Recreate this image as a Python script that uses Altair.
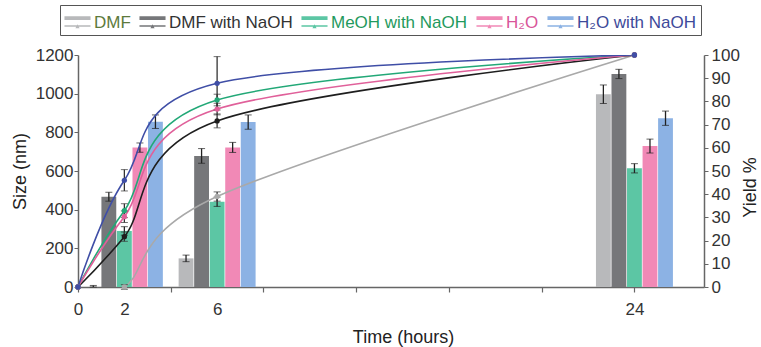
import altair as alt
import pandas as pd

# ---------------- data ----------------
series = ["DMF", "DMF with NaOH", "MeOH with NaOH", "H₂O", "H₂O with NaOH"]
bar_colors = ["#b8b9bb", "#76777a", "#5cc6a4", "#f189b6", "#8cb2e4"]
line_colors = ["#a9a9a9", "#1e1e1e", "#22a877", "#e0609a", "#3f4ea6"]
label_colors = ["#5d7a3c", "#333333", "#1f9a5e", "#d9559a", "#3d4a9a"]

bar_times = [2, 6, 24]
dmf_size = [0, 148, 997]
dmf_naoh_size = [467, 678, 1102]
meoh_naoh_size = [290, 441, 614]
h2o_size = [721, 722, 729]
h2o_naoh_size = [855, 853, 873]
dmf_size_err = [8, 17, 48]
dmf_naoh_size_err = [23, 38, 24]
meoh_naoh_size_err = [22, 24, 24]
h2o_size_err = [24, 26, 36]
h2o_naoh_size_err = [35, 37, 37]

line_times = [0, 2, 6, 24]
dmf_yield = [0, 0, 39, 100]
dmf_naoh_yield = [0, 21.7, 71.6, 100]
meoh_naoh_yield = [0, 32.9, 80.6, 100]
h2o_yield = [0, 30.3, 76.7, 100]
h2o_naoh_yield = [0, 46, 87.8, 100]
dmf_yield_err = [0, 1, 2, 0]
dmf_naoh_yield_err = [0, 2, 3, 0]
meoh_naoh_yield_err = [0, 3, 2.5, 0]
h2o_yield_err = [0, 2.5, 2.5, 0]
h2o_naoh_yield_err = [0, 4.6, 11.5, 0]

size_ticks = [0, 200, 400, 600, 800, 1000, 1200]
yield_ticks = [0, 10, 20, 30, 40, 50, 60, 70, 80, 90, 100]
hour_labels = [0, 2, 6, 24]
hour_ticks = [0, 4, 8, 12, 16, 20, 24]

# ---------------- build tables ----------------
BAR_STEP = 0.67   # hours between neighbouring bars
BAR_W = 0.64      # bar width in hours

sizes = [dmf_size, dmf_naoh_size, meoh_naoh_size, h2o_size, h2o_naoh_size]
size_errs = [dmf_size_err, dmf_naoh_size_err, meoh_naoh_size_err, h2o_size_err, h2o_naoh_size_err]
yields = [dmf_yield, dmf_naoh_yield, meoh_naoh_yield, h2o_yield, h2o_naoh_yield]
yield_errs = [dmf_yield_err, dmf_naoh_yield_err, meoh_naoh_yield_err, h2o_yield_err, h2o_naoh_yield_err]

bar_rows = []
for i, s in enumerate(series):
    for j, t in enumerate(bar_times):
        xc = t + (i - 2) * BAR_STEP
        v = sizes[i][j]
        e = size_errs[i][j]
        bar_rows.append(dict(series=s, order=i, xc=xc, x0=xc - BAR_W / 2, x1=xc + BAR_W / 2,
                             size=v, lo=max(v - e, 0), hi=v + e))
bar_df = pd.DataFrame(bar_rows)

line_rows = []
for i, s in enumerate(series):
    for j, t in enumerate(line_times):
        v = yields[i][j]
        e = yield_errs[i][j]
        line_rows.append(dict(series=s, order=i, t=t, y=v, lo=v - e, hi=v + e, err=e))
line_df = pd.DataFrame(line_rows)
err_df = line_df[line_df["err"] > 0]

# ---------------- scales / axes ----------------
FONT = "Liberation Sans"
xscale = alt.Scale(domain=[0, 27], nice=False, zero=False)
size_scale = alt.Scale(domain=[0, 1200], nice=False)
yield_scale = alt.Scale(domain=[0, 100], nice=False)

x_axis = alt.Axis(
    values=sorted(set(hour_labels + hour_ticks)),
    labelExpr="indexof([" + ",".join(str(h) for h in hour_labels) + "], datum.value) >= 0 ? datum.label : ''",
    tickOpacity={"condition": {"test": "datum.value % 4 == 0", "value": 1}, "value": 0},
    grid=False, tickSize=5, labelPadding=9, labelFontSize=17, labelFlush=False,
    labelOverlap=False, labelColor="#333", domainColor="#666", domainWidth=1.5,
    tickColor="#666", tickWidth=1.2,
    title="Time (hours)", titleFontSize=18, titleFontWeight="normal", titleColor="#222",
    titleX=325, titleY=50, titleBaseline="middle", titleAlign="center",
)
left_axis = alt.Axis(
    values=size_ticks, format="d", grid=False, tickSize=4, labelFontSize=17, labelColor="#333",
    labelOverlap=False, domainColor="#666", domainWidth=1.5, tickColor="#666", labelPadding=1,
    title="Size (nm)", titleFontSize=18, titleFontWeight="normal", titleColor="#222",
    titlePadding=6, orient="left",
)
right_axis = alt.Axis(
    values=yield_ticks, format="d", grid=False, tickSize=4, labelFontSize=17, labelColor="#333",
    labelOverlap=False, domainColor="#666", domainWidth=1.5, tickColor="#666", labelPadding=3,
    title="Yield %", titleFontSize=18, titleFontWeight="normal", titleColor="#222",
    titlePadding=2, titleAngle=270, titleBaseline="top", titleY=132, orient="right",
)

label_expr = "".join(f"datum.value == '{s}' ? '{c}' : " for s, c in zip(series[:-1], label_colors[:-1])) + f"'{label_colors[-1]}'"
legend_symbol = "M-1,-0.5H1V-0.22H-1Z M-1,0.2H1V0.3H-1Z M-0.16,0.42L0,0.12L0.16,0.42Z"

legend = alt.Legend(
    orient="none", legendX=-18, legendY=-50, direction="horizontal", title=None,
    symbolType=legend_symbol, symbolSize=680, symbolStrokeWidth=0, symbolOpacity=1,
    labelFontSize=17, labelFont=FONT, labelLimit=300, labelOffset=3, columnPadding=8,
    strokeColor="#555", padding=4,
    labelColor={"expr": label_expr},
)

# ---------------- layers ----------------
bars = alt.Chart(bar_df).mark_bar(opacity=1).encode(
    x=alt.X("x0:Q", scale=xscale, axis=x_axis, title="Time (hours)"),
    x2="x1:Q",
    y=alt.Y("size:Q", scale=size_scale, axis=left_axis, title="Size (nm)"),
    y2=alt.datum(0),
    color=alt.Color("series:N", scale=alt.Scale(domain=series, range=bar_colors), legend=legend, sort=series),
)

bar_err = alt.Chart(bar_df).mark_errorbar(
    ticks={"size": 7, "color": "#222", "strokeWidth": 1.3},
    rule={"strokeWidth": 1.3}, color="#222",
).encode(
    x=alt.X("xc:Q", scale=xscale, axis=x_axis, title="Time (hours)"),
    y=alt.Y("lo:Q", scale=size_scale, axis=left_axis, title="Size (nm)"),
    y2="hi:Q",
)

lines = alt.Chart(line_df).mark_line(interpolate="cardinal", tension=0, strokeWidth=1.6, clip=True).encode(
    x=alt.X("t:Q", scale=xscale, axis=x_axis, title="Time (hours)"),
    y=alt.Y("y:Q", scale=yield_scale, axis=right_axis, title="Yield %"),
    stroke=alt.Stroke("series:N", scale=alt.Scale(domain=series, range=line_colors), legend=None),
    order="t:Q",
)

line_err = alt.Chart(err_df).mark_errorbar(
    ticks={"size": 7, "color": "#333", "strokeWidth": 1.3},
    rule={"strokeWidth": 1.3}, color="#333",
).encode(
    x=alt.X("t:Q", scale=xscale, axis=x_axis, title="Time (hours)"),
    y=alt.Y("lo:Q", scale=yield_scale, axis=right_axis, title="Yield %"),
    y2="hi:Q",
)

points = alt.Chart(line_df).mark_point(filled=True, size=28, opacity=1).encode(
    x=alt.X("t:Q", scale=xscale, axis=x_axis, title="Time (hours)"),
    y=alt.Y("y:Q", scale=yield_scale, axis=right_axis, title="Yield %"),
    fill=alt.Fill("series:N", scale=alt.Scale(domain=series, range=line_colors), legend=None),
)

left = alt.layer(bars, bar_err)
right = alt.layer(lines, line_err, points)

chart = alt.layer(left, right).resolve_scale(y="independent").properties(
    width=626, height=232,
    autosize=alt.AutoSizeParams(type="none"),
    padding={"left": 78, "top": 55, "right": 57, "bottom": 60},
).configure(font=FONT).configure_view(stroke=None)

chart.save("out.html", embed_options={"renderer": "svg", "actions": False})
